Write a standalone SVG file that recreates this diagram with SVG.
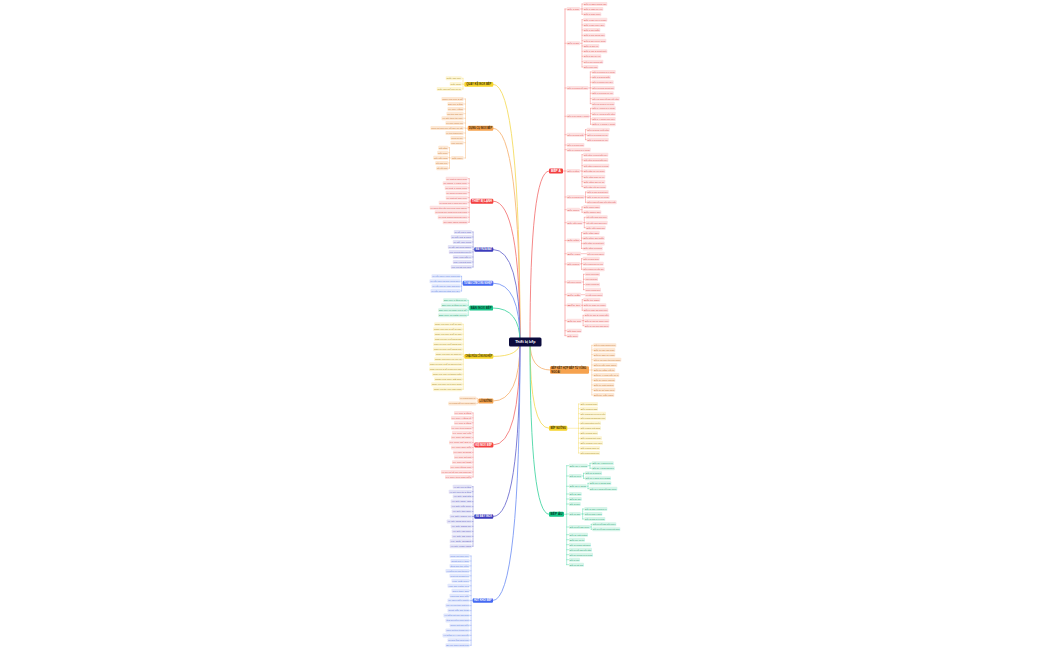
<svg xmlns="http://www.w3.org/2000/svg" width="1050" height="650" viewBox="0 0 1050 650">
<style>
text{font-family:"Liberation Sans",Arial,sans-serif;font-size:2.4px}
.ch rect{rx:0.8px}
.L .ch text{text-anchor:end}
.nd rect{rx:1.2px}
.nd text{font-size:2.7px;font-weight:bold;text-anchor:middle}
.y .ch rect{fill:#fdf5d3}.y .ch text{fill:#a88c1a}.y .nd rect{fill:#f6d32b}.y .nd text{fill:#3a3000}
.o .ch rect{fill:#fde8d4}.o .ch text{fill:#c97a38}.o .nd rect{fill:#f6a24e}.o .nd text{fill:#3a1e00}
.r .ch rect{fill:#fde1e1}.r .ch text{fill:#dd5a5a}.r .nd rect{fill:#f33f3f}.r .nd text{fill:#fff}
.i .ch rect{fill:#e3e3f7}.i .ch text{fill:#6464c2}.i .nd rect{fill:#3c3cbc}.i .nd text{fill:#fff}
.b .ch rect{fill:#e1e8fd}.b .ch text{fill:#6483e3}.b .nd rect{fill:#4469f2}.b .nd text{fill:#fff}
.g .ch rect{fill:#d6f5e9}.g .ch text{fill:#2a9f72}.g .nd rect{fill:#15c487}.g .nd text{fill:#053a26}
#center rect{fill:#0b0b3d}#center text{fill:#fff;font-size:3.6px;font-weight:bold;text-anchor:middle}
#connectors path{fill:none;stroke-linecap:round}
.m{stroke-width:0.9}.k{stroke-width:0.45}
.sy{stroke:#f5dc62}.so{stroke:#f7b87a}.sr{stroke:#f47a7a}.si{stroke:#7070d0}.sb{stroke:#7a98f5}.sg{stroke:#49d6a5}
.tr{stroke:#f7a0a0;stroke-width:0.8}
</style>
<rect width="1050" height="650" fill="#ffffff"/>
<g id="connectors">
<path class="m sy" d="M520 342Q520 84.3 493.3 84.3"/>
<path class="m so" d="M520 342Q520 128.3 493.3 128.3"/>
<path class="m sr" d="M520 342Q520 201.2 493.3 201.2"/>
<path class="m si" d="M520 342Q520 249.5 493.3 249.5"/>
<path class="m sb" d="M520 342Q520 283.2 493.3 283.2"/>
<path class="m sg" d="M520 342Q520 308 493 308"/>
<path class="m sy" d="M520 342Q520 356.4 493.3 356.4"/>
<path class="m so" d="M520 342Q520 401 493.3 401"/>
<path class="m sr" d="M520 342Q520 445 493.3 445"/>
<path class="m si" d="M520 342Q520 516.5 493.3 516.5"/>
<path class="m sb" d="M520 342Q520 600.5 493 600.5"/>
<path class="m sr" d="M530 342Q530 171 549 171"/>
<path class="m so" d="M530 342Q530 370 550 370"/>
<path class="m sy" d="M530 342Q530 428.3 549 428.3"/>
<path class="m sg" d="M530 342Q530 514.3 549 514.3"/>
<path class="k sy" d="M464.3 84.3H463M463 78.3V89M463 78.3h-1.3M463 84h-1.3M463 89h-1.3"/>
<path class="k so" d="M467.7 128.3H465.5M465.5 99V158M465.5 99h-2M465.5 104h-2M465.5 109h-2M465.5 113.7h-2M465.5 118.3h-2M465.5 123h-2M465.5 128h-2M465.5 133h-2M465.5 138h-2M465.5 142.7h-2M465.5 158h-2M451.2 158H449.5M449.5 147.7V168.3M449.5 147.7h-1.2M449.5 152.7h-1.2M449.5 157.7h-1.2M449.5 163h-1.2M449.5 168.3h-1.2"/>
<path class="k sr" d="M470.7 201.2H469.2M469.2 178.7V222.3M469.2 178.7h-1.5M469.2 183.3h-1.5M469.2 188h-1.5M469.2 192.7h-1.5M469.2 197.7h-1.5M469.2 202.7h-1.5M469.2 207.7h-1.5M469.2 212.3h-1.5M469.2 217.3h-1.5M469.2 222.3h-1.5"/>
<path class="k si" d="M474.3 249.5H473.1M473.1 232V267M473.1 232h-1.3M473.1 237h-1.3M473.1 242h-1.3M473.1 247h-1.3M473.1 252h-1.3M473.1 257h-1.3M473.1 262h-1.3M473.1 267h-1.3"/>
<path class="k sb" d="M462.7 283.2H461.6M461.6 276.3V291M461.6 276.3h-1.1M461.6 281.3h-1.1M461.6 286.3h-1.1M461.6 291h-1.1"/>
<path class="k sg" d="M469.3 308H468.2M468.2 300.3V315.3M468.2 300.3h-1M468.2 305.3h-1M468.2 310.3h-1M468.2 315.3h-1"/>
<path class="k sy" d="M464.3 356.4H463.2M463.2 324.3V389.3M463.2 324.3h-1M463.2 329.3h-1M463.2 334.3h-1M463.2 339.3h-1M463.2 344.3h-1M463.2 349.3h-1M463.2 354.3h-1M463.2 359.3h-1M463.2 364.3h-1M463.2 369.3h-1M463.2 374.3h-1M463.2 379.3h-1M463.2 384.3h-1M463.2 389.3h-1"/>
<path class="k so" d="M478.3 401H477.3M477.3 398.4V403.6M477.3 398.4h-1M477.3 403.6h-1"/>
<path class="k sr" d="M474.3 445H473.1M473.1 413V477M473.1 413h-1.1M473.1 417.9h-1.1M473.1 422.8h-1.1M473.1 427.8h-1.1M473.1 432.7h-1.1M473.1 437.6h-1.1M473.1 442.5h-1.1M473.1 447.5h-1.1M473.1 452.4h-1.1M473.1 457.3h-1.1M473.1 462.2h-1.1M473.1 467.2h-1.1M473.1 472.1h-1.1M473.1 477h-1.1"/>
<path class="k si" d="M474.3 516.5H473M473 486.7V546.3M473 486.7h-1.3M473 491.7h-1.3M473 496.6h-1.3M473 501.6h-1.3M473 506.6h-1.3M473 511.5h-1.3M473 516.5h-1.3M473 521.5h-1.3M473 526.4h-1.3M473 531.4h-1.3M473 536.4h-1.3M473 541.3h-1.3M473 546.3h-1.3"/>
<path class="k sb" d="M472.7 600.5H471.1M471.1 556V645.3M471.1 556h-1.6M471.1 561h-1.6M471.1 565.9h-1.6M471.1 570.9h-1.6M471.1 575.8h-1.6M471.1 580.8h-1.6M471.1 585.8h-1.6M471.1 590.7h-1.6M471.1 595.7h-1.6M471.1 600.6h-1.6M471.1 605.6h-1.6M471.1 610.6h-1.6M471.1 615.5h-1.6M471.1 620.5h-1.6M471.1 625.4h-1.6M471.1 630.4h-1.6M471.1 635.4h-1.6M471.1 640.3h-1.6M471.1 645.3h-1.6"/>
<path class="tr" d="M563 171H565M565 9V335.7"/>
<path class="k sr" d="M565 9h1.7M565 43.3h1.7M565 88h1.7M565 116.3h1.7M565 134.7h1.7M565 145h1.7M565 149.7h1.7M565 171h1.7M565 197h1.7M565 209.7h1.7M565 222.7h1.7M565 240.5h1.7M565 253.7h1.7M565 264h1.7M565 282h1.7M565 294.7h1.7M565 305.3h1.7M565 320.7h1.7M565 330.7h1.7M565 335.7h1.7
M580 9H582M582 4V14.3M582 4h1.3M582 9h1.3M582 14.3h1.3
M580 43.3H582M582 19.7V67M582 19.7h1.3M582 25h1.3M582 30h1.3M582 35.3h1.3M582 40.7h1.3M582 46h1.3M582 51.3h1.3M582 56.3h1.3M582 61.7h1.3M582 67h1.3
M588.4 88H590.3M590.3 72V103.7M590.3 72h1.4M590.3 77.3h1.4M590.3 82.3h1.4M590.3 88h1.4M590.3 93.3h1.4M590.3 98.7h1.4M590.3 103.7h1.4
M589.4 116.3H590.5M590.5 108.3V124.3M590.5 108.3h1.2M590.5 113.7h1.2M590.5 119h1.2M590.5 124.3h1.2
M584.4 134.7H585.5M585.5 129.7V139.7M585.5 129.7h1.2M585.5 134.7h1.2M585.5 139.7h1.2
M580 171H582M582 154.7V186.7M582 154.7h1.3M582 160h1.3M582 165.7h1.3M582 171.3h1.3M582 176.7h1.3M582 181.7h1.3M582 186.7h1.3
M584.4 197H585.5M585.5 192V202.3M585.5 192h1.2M585.5 197h1.2M585.5 202.3h1.2
M580 209.7H582M582 207V212.3M582 207h1.3M582 212.3h1.3
M582.7 222.7H584.3M584.3 217.3V227.7M584.3 217.3h1.4M584.3 222.7h1.4M584.3 227.7h1.4
M580 240.5H581.5M581.5 232.7V248.5M581.5 232.7h1.2M581.5 238.2h1.2M581.5 243.5h1.2M581.5 248.5h1.2
M581 253.7H586.7
M580 264H581.5M581.5 258.7V269.3M581.5 258.7h1.2M581.5 263.7h1.2M581.5 269.3h1.2
M581.7 282H583.5M583.5 274.3V289.7M583.5 274.3h1.5M583.5 279.3h1.5M583.5 284.5h1.5M583.5 289.7h1.5
M581 294.7H585
M581 305.3H582.2M582.2 299.7V310.3M582.2 299.7h1.1M582.2 305.3h1.1M582.2 310.3h1.1
M581.7 320.7H583.1M583.1 315.3V325.7M583.1 315.3h1.2M583.1 320.7h1.2M583.1 325.7h1.2"/>
<path class="k so" d="M589 370H591.8M591.8 345.3V395M591.8 345.3h1.5M591.8 350h1.5M591.8 354.7h1.5M591.8 359.7h1.5M591.8 365h1.5M591.8 370h1.5M591.8 375h1.5M591.8 380h1.5M591.8 385h1.5M591.8 389.7h1.5M591.8 395h1.5"/>
<path class="k sy" d="M567.3 428.3H578.5M578.5 404V453M578.5 404h1.5M578.5 408.7h1.5M578.5 413.7h1.5M578.5 418.3h1.5M578.5 423.3h1.5M578.5 428.3h1.5M578.5 433.3h1.5M578.5 438.3h1.5M578.5 443h1.5M578.5 448h1.5M578.5 453h1.5"/>
<path class="k sg" d="M564 514.3H566.7M566.7 465.7V564.7M566.7 465.7h2.3M566.7 476h2.3M566.7 486.3h2.3M566.7 494h2.3M566.7 499h2.3M566.7 504h2.3M566.7 514h2.3M566.7 527h2.3M566.7 534.7h2.3M566.7 539.7h2.3M566.7 544.7h2.3M566.7 549.7h2.3M566.7 554.7h2.3M566.7 559.7h2.3M566.7 564.7h2.3
M587.7 465.7H590M590 463.3V468.3M590 463.3h1.7M590 468.3h1.7
M581.7 476H583.5M583.5 473.3V478.3M583.5 473.3h1.5M583.5 478.3h1.5
M586.7 486.3H588M588 483.3V488.7M588 483.3h1.3M588 488.7h1.3
M580.7 514H582.7M582.7 509V519M582.7 509h1.6M582.7 514h1.6M582.7 519h1.6
M590 527H591.2M591.2 524.3V529.3M591.2 524.3h1.1M591.2 529.3h1.1"/>
</g>

<g id="b1" class="y L">
<g id="b1-node" class="nd"><rect x="464.3" y="81.9" width="29" height="4.8"/><text x="478.8" y="85.25" textLength="25" lengthAdjust="spacingAndGlyphs">QUẦY KỆ INOX BẾP</text></g>
<g class="ch">
<g id="b1-1"><rect x="445.7" y="76.3" width="16" height="4"/><text x="460.9" y="79.15" textLength="14.4" lengthAdjust="spacingAndGlyphs">Quầy bar inox</text></g>
<g id="b1-2"><rect x="449.7" y="82" width="12" height="4"/><text x="460.9" y="84.85" textLength="10.4" lengthAdjust="spacingAndGlyphs">Quầy soạn</text></g>
<g id="b1-3"><rect x="436.7" y="87" width="25" height="4"/><text x="460.9" y="89.85" textLength="23.4" lengthAdjust="spacingAndGlyphs">Quầy pha chế inox có kệ</text></g>
</g></g>

<g id="b2" class="o L">
<g id="b2-node" class="nd"><rect x="467.7" y="125.8" width="25.6" height="5"/><text x="480.5" y="129.25" textLength="23" lengthAdjust="spacingAndGlyphs">DỤNG CỤ INOX BẾP</text></g>
<g class="ch">
<g id="b2-1"><rect x="441.5" y="97" width="22" height="4"/><text x="462.7" y="99.85" textLength="20.4" lengthAdjust="spacingAndGlyphs">Chậu rửa inox 2 hố</text></g>
<g id="b2-2"><rect x="447.5" y="102" width="16" height="4"/><text x="462.7" y="104.85" textLength="14.4" lengthAdjust="spacingAndGlyphs">Bàn inox 2 tầng</text></g>
<g id="b2-3"><rect x="447.5" y="107" width="16" height="4"/><text x="462.7" y="109.85" textLength="14.4" lengthAdjust="spacingAndGlyphs">Kệ inox 4 tầng</text></g>
<g id="b2-4"><rect x="446.5" y="111.7" width="17" height="4"/><text x="462.7" y="114.55" textLength="15.4" lengthAdjust="spacingAndGlyphs">Giá treo dao inox</text></g>
<g id="b2-5"><rect x="441.5" y="116.3" width="22" height="4"/><text x="462.7" y="119.15" textLength="20.4" lengthAdjust="spacingAndGlyphs">Xe đẩy thức ăn inox</text></g>
<g id="b2-6"><rect x="445.5" y="121" width="18" height="4"/><text x="462.7" y="123.85" textLength="16.4" lengthAdjust="spacingAndGlyphs">Tủ inox cánh lùa</text></g>
<g id="b2-7"><rect x="430.5" y="126" width="33" height="4"/><text x="462.7" y="128.85" textLength="31.4" lengthAdjust="spacingAndGlyphs">Chụp hút khói inox kết hợp lọc mỡ</text></g>
<g id="b2-8"><rect x="445.5" y="131" width="18" height="4"/><text x="462.7" y="133.85" textLength="16.4" lengthAdjust="spacingAndGlyphs">Kệ treo tường inox</text></g>
<g id="b2-9"><rect x="450.5" y="136" width="13" height="4"/><text x="462.7" y="138.85" textLength="11.4" lengthAdjust="spacingAndGlyphs">Thùng rác inox</text></g>
<g id="b2-10"><rect x="450.5" y="140.7" width="13" height="4"/><text x="462.7" y="143.55" textLength="11.4" lengthAdjust="spacingAndGlyphs">Khay GN inox</text></g>
<g id="b2-11"><rect x="451.2" y="156" width="12.3" height="4"/><text x="462.7" y="158.85" textLength="10.7" lengthAdjust="spacingAndGlyphs">Nồi inox</text></g>
<g id="b2-11-1"><rect x="438.3" y="145.7" width="10" height="4"/><text x="447.5" y="148.55" textLength="8.4" lengthAdjust="spacingAndGlyphs">Nồi hầm</text></g>
<g id="b2-11-2"><rect x="437.3" y="150.7" width="11" height="4"/><text x="447.5" y="153.55" textLength="9.4" lengthAdjust="spacingAndGlyphs">Nồi luộc</text></g>
<g id="b2-11-3"><rect x="433.3" y="155.7" width="15" height="4"/><text x="447.5" y="158.55" textLength="13.4" lengthAdjust="spacingAndGlyphs">Nồi nấu phở</text></g>
<g id="b2-11-4"><rect x="435.3" y="161" width="13" height="4"/><text x="447.5" y="163.85" textLength="11.4" lengthAdjust="spacingAndGlyphs">Nồi cơm inox</text></g>
<g id="b2-11-5"><rect x="436.3" y="166.3" width="12" height="4"/><text x="447.5" y="169.15" textLength="10.4" lengthAdjust="spacingAndGlyphs">Nồi nấu canh</text></g>
</g></g>

<g id="b3" class="r L">
<g id="b3-node" class="nd"><rect x="470.7" y="198.7" width="22.6" height="5"/><text x="482" y="202.15" textLength="20" lengthAdjust="spacingAndGlyphs">THIẾT BỊ LẠNH</text></g>
<g class="ch">
<g id="b3-1"><rect x="445.7" y="176.7" width="22" height="4"/><text x="466.9" y="179.55" textLength="20.4" lengthAdjust="spacingAndGlyphs">Tủ mát 2 cánh kính</text></g>
<g id="b3-2"><rect x="442.7" y="181.3" width="25" height="4"/><text x="466.9" y="184.15" textLength="23.4" lengthAdjust="spacingAndGlyphs">Tủ đông 4 cánh inox</text></g>
<g id="b3-3"><rect x="444.7" y="186" width="23" height="4"/><text x="466.9" y="188.85" textLength="21.4" lengthAdjust="spacingAndGlyphs">Tủ mát 1 cánh kính</text></g>
<g id="b3-4"><rect x="445.7" y="190.7" width="22" height="4"/><text x="466.9" y="193.55" textLength="20.4" lengthAdjust="spacingAndGlyphs">Tủ đông 2 cánh inox</text></g>
<g id="b3-5"><rect x="445.7" y="195.7" width="22" height="4"/><text x="466.9" y="198.55" textLength="20.4" lengthAdjust="spacingAndGlyphs">Tủ mát để bàn inox</text></g>
<g id="b3-6"><rect x="438.7" y="200.7" width="29" height="4"/><text x="466.9" y="203.55" textLength="27.4" lengthAdjust="spacingAndGlyphs">Tủ đông mát 6 cánh inox 304</text></g>
<g id="b3-7"><rect x="429.7" y="205.7" width="38" height="4"/><text x="466.9" y="208.55" textLength="36.4" lengthAdjust="spacingAndGlyphs">Tủ đông nằm nắp kính cong công nghiệp</text></g>
<g id="b3-8"><rect x="434.7" y="210.3" width="33" height="4"/><text x="466.9" y="213.15" textLength="31.4" lengthAdjust="spacingAndGlyphs">Tủ trưng bày bánh kem kính cong</text></g>
<g id="b3-9"><rect x="437.7" y="215.3" width="30" height="4"/><text x="466.9" y="218.15" textLength="28.4" lengthAdjust="spacingAndGlyphs">Tủ mát salad topping inox</text></g>
<g id="b3-10"><rect x="442.7" y="220.3" width="25" height="4"/><text x="466.9" y="223.15" textLength="23.4" lengthAdjust="spacingAndGlyphs">Tủ làm lạnh nhanh</text></g>
</g></g>

<g id="b4" class="i L">
<g id="b4-node" class="nd"><rect x="474.3" y="247.2" width="19" height="4.6"/><text x="483.8" y="250.45" textLength="16.5" lengthAdjust="spacingAndGlyphs">MÁY RỬA BÁT</text></g>
<g class="ch">
<g id="b4-1"><rect x="453.8" y="230" width="18" height="4"/><text x="471" y="232.85" textLength="16.4" lengthAdjust="spacingAndGlyphs">Tủ sấy bát 1 cánh</text></g>
<g id="b4-2"><rect x="450.8" y="235" width="21" height="4"/><text x="471" y="237.85" textLength="19.4" lengthAdjust="spacingAndGlyphs">Tủ sấy bát 2 cánh</text></g>
<g id="b4-3"><rect x="452.8" y="240" width="19" height="4"/><text x="471" y="242.85" textLength="17.4" lengthAdjust="spacingAndGlyphs">Tủ sấy khử trùng</text></g>
<g id="b4-4"><rect x="447.8" y="245" width="24" height="4"/><text x="471" y="247.85" textLength="22.4" lengthAdjust="spacingAndGlyphs">Tủ sấy bát công nghiệp</text></g>
<g id="b4-5"><rect x="448.8" y="250" width="23" height="4"/><text x="471" y="252.85" textLength="21.4" lengthAdjust="spacingAndGlyphs">Máy rửa bát băng chuyền</text></g>
<g id="b4-6"><rect x="452.8" y="255" width="19" height="4"/><text x="471" y="257.85" textLength="17.4" lengthAdjust="spacingAndGlyphs">Máy rửa cốc ly</text></g>
<g id="b4-7"><rect x="452.8" y="260" width="19" height="4"/><text x="471" y="262.85" textLength="17.4" lengthAdjust="spacingAndGlyphs">Máy rửa bát mini</text></g>
<g id="b4-8"><rect x="450.8" y="265" width="21" height="4"/><text x="471" y="267.85" textLength="19.4" lengthAdjust="spacingAndGlyphs">Máy rửa bát cửa nâng</text></g>
</g></g>

<g id="b5" class="b L">
<g id="b5-node" class="nd"><rect x="462.7" y="280.7" width="30.6" height="5"/><text x="478" y="284.15" textLength="28" lengthAdjust="spacingAndGlyphs">TỦ NẤU CƠM CÔNG NGHIỆP</text></g>
<g class="ch">
<g id="b5-1"><rect x="431.5" y="274.3" width="29" height="4"/><text x="459.7" y="277.15" textLength="27.4" lengthAdjust="spacingAndGlyphs">Tủ nấu cơm 6 khay dùng gas</text></g>
<g id="b5-2"><rect x="429.5" y="279.3" width="31" height="4"/><text x="459.7" y="282.15" textLength="29.4" lengthAdjust="spacingAndGlyphs">Tủ nấu cơm 12 khay dùng điện</text></g>
<g id="b5-3"><rect x="431.5" y="284.3" width="29" height="4"/><text x="459.7" y="287.15" textLength="27.4" lengthAdjust="spacingAndGlyphs">Tủ nấu cơm 24 khay gas điện</text></g>
<g id="b5-4"><rect x="430.5" y="289" width="30" height="4"/><text x="459.7" y="291.85" textLength="28.4" lengthAdjust="spacingAndGlyphs">Tủ hấp cơm đa năng inox 304</text></g>
</g></g>

<g id="b6" class="g L">
<g id="b6-node" class="nd"><rect x="469.3" y="305.4" width="23.7" height="5.2"/><text x="481.15" y="308.95" textLength="21" lengthAdjust="spacingAndGlyphs">BÀN INOX BẾP</text></g>
<g class="ch">
<g id="b6-1"><rect x="443.2" y="298.3" width="24" height="4"/><text x="466.4" y="301.15" textLength="22.4" lengthAdjust="spacingAndGlyphs">Bàn inox 1 tầng có kệ</text></g>
<g id="b6-2"><rect x="441.2" y="303.3" width="26" height="4"/><text x="466.4" y="306.15" textLength="24.4" lengthAdjust="spacingAndGlyphs">Bàn inox 2 tầng có gáy</text></g>
<g id="b6-3"><rect x="438.2" y="308.3" width="29" height="4"/><text x="466.4" y="311.15" textLength="27.4" lengthAdjust="spacingAndGlyphs">Bàn inox có chậu rửa 1 hố</text></g>
<g id="b6-4"><rect x="438.2" y="313.3" width="29" height="4"/><text x="466.4" y="316.15" textLength="27.4" lengthAdjust="spacingAndGlyphs">Bàn inox có ngăn kéo tủ</text></g>
</g></g>

<g id="b7" class="y L">
<g id="b7-node" class="nd"><rect x="464.3" y="354" width="29" height="4.8"/><text x="478.8" y="357.35" textLength="26.5" lengthAdjust="spacingAndGlyphs">CHẬU RỬA CÔNG NGHIỆP</text></g>
<g class="ch">
<g id="b7-1"><rect x="434.2" y="322.3" width="28" height="4"/><text x="461.4" y="325.15" textLength="26.4" lengthAdjust="spacingAndGlyphs">Chậu rửa inox 1 hố có bàn</text></g>
<g id="b7-2"><rect x="433.2" y="327.3" width="29" height="4"/><text x="461.4" y="330.15" textLength="27.4" lengthAdjust="spacingAndGlyphs">Chậu rửa inox 2 hố có bàn</text></g>
<g id="b7-3"><rect x="434.2" y="332.3" width="28" height="4"/><text x="461.4" y="335.15" textLength="26.4" lengthAdjust="spacingAndGlyphs">Chậu rửa inox 3 hố có bàn</text></g>
<g id="b7-4"><rect x="434.2" y="337.3" width="28" height="4"/><text x="461.4" y="340.15" textLength="26.4" lengthAdjust="spacingAndGlyphs">Chậu rửa inox 1 hố không bàn</text></g>
<g id="b7-5"><rect x="433.2" y="342.3" width="29" height="4"/><text x="461.4" y="345.15" textLength="27.4" lengthAdjust="spacingAndGlyphs">Chậu rửa inox 2 hố không bàn</text></g>
<g id="b7-6"><rect x="433.2" y="347.3" width="29" height="4"/><text x="461.4" y="350.15" textLength="27.4" lengthAdjust="spacingAndGlyphs">Chậu rửa inox 3 hố không bàn</text></g>
<g id="b7-7"><rect x="435.2" y="352.3" width="27" height="4"/><text x="461.4" y="355.15" textLength="25.4" lengthAdjust="spacingAndGlyphs">Chậu rửa inox có chân kệ</text></g>
<g id="b7-8"><rect x="434.2" y="357.3" width="28" height="4"/><text x="461.4" y="360.15" textLength="26.4" lengthAdjust="spacingAndGlyphs">Chậu rửa inox có vòi xịt</text></g>
<g id="b7-9"><rect x="429.2" y="362.3" width="33" height="4"/><text x="461.4" y="365.15" textLength="31.4" lengthAdjust="spacingAndGlyphs">Chậu rửa inox 2 hố có bàn bên trái</text></g>
<g id="b7-10"><rect x="429.2" y="367.3" width="33" height="4"/><text x="461.4" y="370.15" textLength="31.4" lengthAdjust="spacingAndGlyphs">Chậu rửa inox 2 hố có bàn bên phải</text></g>
<g id="b7-11"><rect x="432.2" y="372.3" width="30" height="4"/><text x="461.4" y="375.15" textLength="28.4" lengthAdjust="spacingAndGlyphs">Chậu rửa inox có thành chắn</text></g>
<g id="b7-12"><rect x="434.2" y="377.3" width="28" height="4"/><text x="461.4" y="380.15" textLength="26.4" lengthAdjust="spacingAndGlyphs">Chậu rửa inox đặt góc</text></g>
<g id="b7-13"><rect x="431.2" y="382.3" width="31" height="4"/><text x="461.4" y="385.15" textLength="29.4" lengthAdjust="spacingAndGlyphs">Chậu rửa inox có tủ bên dưới</text></g>
<g id="b7-14"><rect x="433.2" y="387.3" width="29" height="4"/><text x="461.4" y="390.15" textLength="27.4" lengthAdjust="spacingAndGlyphs">Chậu rửa tay inox đạp chân</text></g>
</g></g>

<g id="b8" class="o L">
<g id="b8-node" class="nd"><rect x="478.3" y="398.4" width="15" height="5.2"/><text x="485.8" y="401.95" textLength="12.5" lengthAdjust="spacingAndGlyphs">LÒ NƯỚNG</text></g>
<g class="ch">
<g id="b8-1"><rect x="459.3" y="396.4" width="17" height="4"/><text x="475.5" y="399.25" textLength="15.4" lengthAdjust="spacingAndGlyphs">Lò nướng bánh mì</text></g>
<g id="b8-2"><rect x="448.3" y="401.6" width="28" height="4"/><text x="475.5" y="404.45" textLength="26.4" lengthAdjust="spacingAndGlyphs">Lò nướng đối lưu công nghiệp</text></g>
</g></g>

<g id="b9" class="r L">
<g id="b9-node" class="nd"><rect x="474.3" y="442.6" width="19" height="4.8"/><text x="483.8" y="445.95" textLength="16.5" lengthAdjust="spacingAndGlyphs">KỆ INOX BẾP</text></g>
<g class="ch">
<g id="b9-1"><rect x="454" y="411" width="18" height="4"/><text x="471.2" y="413.85" textLength="16.4" lengthAdjust="spacingAndGlyphs">Kệ inox 3 tầng</text></g>
<g id="b9-2"><rect x="451" y="415.9" width="21" height="4"/><text x="471.2" y="418.75" textLength="19.4" lengthAdjust="spacingAndGlyphs">Kệ inox 4 tầng lỗ</text></g>
<g id="b9-3"><rect x="454" y="420.8" width="18" height="4"/><text x="471.2" y="423.65" textLength="16.4" lengthAdjust="spacingAndGlyphs">Kệ inox 5 tầng</text></g>
<g id="b9-4"><rect x="451" y="425.8" width="21" height="4"/><text x="471.2" y="428.65" textLength="19.4" lengthAdjust="spacingAndGlyphs">Kệ inox treo tường</text></g>
<g id="b9-5"><rect x="452" y="430.7" width="20" height="4"/><text x="471.2" y="433.55" textLength="18.4" lengthAdjust="spacingAndGlyphs">Kệ inox để nồi</text></g>
<g id="b9-6"><rect x="451" y="435.6" width="21" height="4"/><text x="471.2" y="438.45" textLength="19.4" lengthAdjust="spacingAndGlyphs">Kệ inox để khay</text></g>
<g id="b9-7"><rect x="449" y="440.5" width="23" height="4"/><text x="471.2" y="443.35" textLength="21.4" lengthAdjust="spacingAndGlyphs">Kệ inox để gia vị</text></g>
<g id="b9-8"><rect x="451" y="445.5" width="21" height="4"/><text x="471.2" y="448.35" textLength="19.4" lengthAdjust="spacingAndGlyphs">Kệ inox góc bếp</text></g>
<g id="b9-9"><rect x="453" y="450.4" width="19" height="4"/><text x="471.2" y="453.25" textLength="17.4" lengthAdjust="spacingAndGlyphs">Kệ inox di động</text></g>
<g id="b9-10"><rect x="454" y="455.3" width="18" height="4"/><text x="471.2" y="458.15" textLength="16.4" lengthAdjust="spacingAndGlyphs">Kệ inox để bát</text></g>
<g id="b9-11"><rect x="452" y="460.2" width="20" height="4"/><text x="471.2" y="463.05" textLength="18.4" lengthAdjust="spacingAndGlyphs">Kệ inox để thớt</text></g>
<g id="b9-12"><rect x="450" y="465.2" width="22" height="4"/><text x="471.2" y="468.05" textLength="20.4" lengthAdjust="spacingAndGlyphs">Kệ inox tầng nan</text></g>
<g id="b9-13"><rect x="441" y="470.1" width="31" height="4"/><text x="471.2" y="472.95" textLength="29.4" lengthAdjust="spacingAndGlyphs">Kệ inox để đồ khô nhà hàng lớn</text></g>
<g id="b9-14"><rect x="445" y="475" width="27" height="4"/><text x="471.2" y="477.85" textLength="25.4" lengthAdjust="spacingAndGlyphs">Kệ inox trên bàn bếp</text></g>
</g></g>

<g id="b10" class="i L">
<g id="b10-node" class="nd"><rect x="474.3" y="514.2" width="19" height="4.6"/><text x="483.8" y="517.45" textLength="16.5" lengthAdjust="spacingAndGlyphs">XE ĐẨY INOX</text></g>
<g class="ch">
<g id="b10-1"><rect x="452.7" y="484.7" width="19" height="4"/><text x="470.9" y="487.55" textLength="17.4" lengthAdjust="spacingAndGlyphs">Xe đẩy inox 2 tầng</text></g>
<g id="b10-2"><rect x="448.7" y="489.7" width="23" height="4"/><text x="470.9" y="492.55" textLength="21.4" lengthAdjust="spacingAndGlyphs">Xe đẩy thức ăn 3 tầng</text></g>
<g id="b10-3"><rect x="452.7" y="494.6" width="19" height="4"/><text x="470.9" y="497.45" textLength="17.4" lengthAdjust="spacingAndGlyphs">Xe đẩy bát đĩa</text></g>
<g id="b10-4"><rect x="450.7" y="499.6" width="21" height="4"/><text x="470.9" y="502.45" textLength="19.4" lengthAdjust="spacingAndGlyphs">Xe đẩy khay GN</text></g>
<g id="b10-5"><rect x="450.7" y="504.6" width="21" height="4"/><text x="470.9" y="507.45" textLength="19.4" lengthAdjust="spacingAndGlyphs">Xe đẩy nồi inox</text></g>
<g id="b10-6"><rect x="451.7" y="509.5" width="20" height="4"/><text x="470.9" y="512.35" textLength="18.4" lengthAdjust="spacingAndGlyphs">Xe đẩy thu dọn</text></g>
<g id="b10-7"><rect x="449.7" y="514.5" width="22" height="4"/><text x="470.9" y="517.35" textLength="20.4" lengthAdjust="spacingAndGlyphs">Xe đẩy phục vụ</text></g>
<g id="b10-8"><rect x="446.7" y="519.5" width="25" height="4"/><text x="470.9" y="522.35" textLength="23.4" lengthAdjust="spacingAndGlyphs">Xe đẩy hàng hóa inox</text></g>
<g id="b10-9"><rect x="450.7" y="524.4" width="21" height="4"/><text x="470.9" y="527.25" textLength="19.4" lengthAdjust="spacingAndGlyphs">Xe đẩy bánh mì</text></g>
<g id="b10-10"><rect x="451.7" y="529.4" width="20" height="4"/><text x="470.9" y="532.25" textLength="18.4" lengthAdjust="spacingAndGlyphs">Xe đẩy rác inox</text></g>
<g id="b10-11"><rect x="451.7" y="534.4" width="20" height="4"/><text x="470.9" y="537.25" textLength="18.4" lengthAdjust="spacingAndGlyphs">Xe đẩy đá viên</text></g>
<g id="b10-12"><rect x="449.7" y="539.3" width="22" height="4"/><text x="470.9" y="542.15" textLength="20.4" lengthAdjust="spacingAndGlyphs">Xe đẩy buffet</text></g>
<g id="b10-13"><rect x="449.7" y="544.3" width="22" height="4"/><text x="470.9" y="547.15" textLength="20.4" lengthAdjust="spacingAndGlyphs">Xe đẩy rượu vang</text></g>
</g></g>

<g id="b11" class="b L">
<g id="b11-node" class="nd"><rect x="472.7" y="598.2" width="20.3" height="4.6"/><text x="482.85" y="601.45" textLength="17.8" lengthAdjust="spacingAndGlyphs">HÚT KHÓI BẾP</text></g>
<g class="ch">
<g id="b11-1"><rect x="449.5" y="554" width="20" height="4"/><text x="468.7" y="556.85" textLength="18.4" lengthAdjust="spacingAndGlyphs">Chụp hút khói inox</text></g>
<g id="b11-2"><rect x="450.5" y="559" width="19" height="4"/><text x="468.7" y="561.85" textLength="17.4" lengthAdjust="spacingAndGlyphs">Quạt hút ly tâm</text></g>
<g id="b11-3"><rect x="449.5" y="563.9" width="20" height="4"/><text x="468.7" y="566.75" textLength="18.4" lengthAdjust="spacingAndGlyphs">Ống gió tôn kẽm</text></g>
<g id="b11-4"><rect x="445.5" y="568.9" width="24" height="4"/><text x="468.7" y="571.75" textLength="22.4" lengthAdjust="spacingAndGlyphs">Hệ thống lọc khói tĩnh điện</text></g>
<g id="b11-5"><rect x="449.5" y="573.8" width="20" height="4"/><text x="468.7" y="576.65" textLength="18.4" lengthAdjust="spacingAndGlyphs">Quạt hút hướng trục</text></g>
<g id="b11-6"><rect x="451.5" y="578.8" width="18" height="4"/><text x="468.7" y="581.65" textLength="16.4" lengthAdjust="spacingAndGlyphs">Lọc mỡ inox</text></g>
<g id="b11-7"><rect x="447.5" y="583.8" width="22" height="4"/><text x="468.7" y="586.65" textLength="20.4" lengthAdjust="spacingAndGlyphs">Van gió chặn lửa</text></g>
<g id="b11-8"><rect x="451.5" y="588.7" width="18" height="4"/><text x="468.7" y="591.55" textLength="16.4" lengthAdjust="spacingAndGlyphs">Côn thu gió</text></g>
<g id="b11-9"><rect x="449.5" y="593.7" width="20" height="4"/><text x="468.7" y="596.55" textLength="18.4" lengthAdjust="spacingAndGlyphs">Miệng gió hồi</text></g>
<g id="b11-10"><rect x="447.5" y="598.6" width="22" height="4"/><text x="468.7" y="601.45" textLength="20.4" lengthAdjust="spacingAndGlyphs">Tủ điện điều khiển</text></g>
<g id="b11-11"><rect x="445.5" y="603.6" width="24" height="4"/><text x="468.7" y="606.45" textLength="22.4" lengthAdjust="spacingAndGlyphs">Máy lọc khói than hoạt tính</text></g>
<g id="b11-12"><rect x="447.5" y="608.6" width="22" height="4"/><text x="468.7" y="611.45" textLength="20.4" lengthAdjust="spacingAndGlyphs">Quạt cấp gió tươi</text></g>
<g id="b11-13"><rect x="443.5" y="613.5" width="26" height="4"/><text x="468.7" y="616.35" textLength="24.4" lengthAdjust="spacingAndGlyphs">Hệ thống hút khói nhà hàng</text></g>
<g id="b11-14"><rect x="445.5" y="618.5" width="24" height="4"/><text x="468.7" y="621.35" textLength="22.4" lengthAdjust="spacingAndGlyphs">Ống gió mềm cách nhiệt</text></g>
<g id="b11-15"><rect x="449.5" y="623.4" width="20" height="4"/><text x="468.7" y="626.25" textLength="18.4" lengthAdjust="spacingAndGlyphs">Chụp hút đảo bếp</text></g>
<g id="b11-16"><rect x="445.5" y="628.4" width="24" height="4"/><text x="468.7" y="631.25" textLength="22.4" lengthAdjust="spacingAndGlyphs">Chụp hút treo tường inox</text></g>
<g id="b11-17"><rect x="442.5" y="633.4" width="27" height="4"/><text x="468.7" y="636.25" textLength="25.4" lengthAdjust="spacingAndGlyphs">Hệ thống xử lý mùi nhà bếp</text></g>
<g id="b11-18"><rect x="447.5" y="638.3" width="22" height="4"/><text x="468.7" y="641.15" textLength="20.4" lengthAdjust="spacingAndGlyphs">Đường ống thoát khói</text></g>
<g id="b11-19"><rect x="445.5" y="643.3" width="24" height="4"/><text x="468.7" y="646.15" textLength="22.4" lengthAdjust="spacingAndGlyphs">Bộ lọc than hoạt tính</text></g>
</g></g>

<g id="r1" class="r">
<g id="r1-node" class="nd"><rect x="549" y="168.5" width="14" height="5"/><text x="556" y="171.95" textLength="10" lengthAdjust="spacingAndGlyphs">BẾP Á</text></g>
<g class="ch">
<g id="r1-1"><rect x="566.7" y="7" width="13.3" height="4"/><text x="567.5" y="9.85" textLength="11.7" lengthAdjust="spacingAndGlyphs">Bếp á đơn</text></g>
<g id="r1-1-1"><rect x="583.3" y="2" width="24" height="4"/><text x="584.1" y="4.85" textLength="22.4" lengthAdjust="spacingAndGlyphs">Bếp á đơn họng lớn</text></g>
<g id="r1-1-2"><rect x="583.3" y="7" width="20" height="4"/><text x="584.1" y="9.85" textLength="18.4" lengthAdjust="spacingAndGlyphs">Bếp á đơn có vòi</text></g>
<g id="r1-1-3"><rect x="583.3" y="12.3" width="18" height="4"/><text x="584.1" y="15.15" textLength="16.4" lengthAdjust="spacingAndGlyphs">Bếp á đơn mini</text></g>
<g id="r1-2"><rect x="566.7" y="41.3" width="13.3" height="4"/><text x="567.5" y="44.15" textLength="11.7" lengthAdjust="spacingAndGlyphs">Bếp á đôi</text></g>
<g id="r1-2-1"><rect x="583.3" y="17.7" width="24" height="4"/><text x="584.1" y="20.55" textLength="22.4" lengthAdjust="spacingAndGlyphs">Bếp á đôi có ô nước</text></g>
<g id="r1-2-2"><rect x="583.3" y="23" width="22" height="4"/><text x="584.1" y="25.85" textLength="20.4" lengthAdjust="spacingAndGlyphs">Bếp á đôi inox 304</text></g>
<g id="r1-2-3"><rect x="583.3" y="28" width="17" height="4"/><text x="584.1" y="30.85" textLength="15.4" lengthAdjust="spacingAndGlyphs">Bếp á đôi thấp</text></g>
<g id="r1-2-4"><rect x="583.3" y="33.3" width="22" height="4"/><text x="584.1" y="36.15" textLength="20.4" lengthAdjust="spacingAndGlyphs">Bếp á đôi họng lớn</text></g>
<g id="r1-2-5"><rect x="583.3" y="38.7" width="23" height="4"/><text x="584.1" y="41.55" textLength="21.4" lengthAdjust="spacingAndGlyphs">Bếp á đôi có kệ dưới</text></g>
<g id="r1-2-6"><rect x="583.3" y="44" width="16" height="4"/><text x="584.1" y="46.85" textLength="14.4" lengthAdjust="spacingAndGlyphs">Bếp á đôi rẻ</text></g>
<g id="r1-2-7"><rect x="583.3" y="49.3" width="24" height="4"/><text x="584.1" y="52.15" textLength="22.4" lengthAdjust="spacingAndGlyphs">Bếp á đôi 2 quạt thổi</text></g>
<g id="r1-2-8"><rect x="583.3" y="54.3" width="18" height="4"/><text x="584.1" y="57.15" textLength="16.4" lengthAdjust="spacingAndGlyphs">Bếp á đôi có vòi</text></g>
<g id="r1-2-9"><rect x="583.3" y="59.7" width="20" height="4"/><text x="584.1" y="62.55" textLength="18.4" lengthAdjust="spacingAndGlyphs">Bếp á đôi khung sắt</text></g>
<g id="r1-2-10"><rect x="583.3" y="65" width="15" height="4"/><text x="584.1" y="67.85" textLength="13.4" lengthAdjust="spacingAndGlyphs">Bếp á đôi nhỏ</text></g>
<g id="r1-3"><rect x="566.7" y="86" width="21.7" height="4"/><text x="567.5" y="88.85" textLength="20.1" lengthAdjust="spacingAndGlyphs">Bếp á 3 họng kết hợp</text></g>
<g id="r1-3-1"><rect x="591.7" y="70" width="24" height="4"/><text x="592.5" y="72.85" textLength="22.4" lengthAdjust="spacingAndGlyphs">Bếp á 3 họng có ô nước</text></g>
<g id="r1-3-2"><rect x="591.7" y="75.3" width="19" height="4"/><text x="592.5" y="78.15" textLength="17.4" lengthAdjust="spacingAndGlyphs">Bếp á 3 họng thấp</text></g>
<g id="r1-3-3"><rect x="591.7" y="80.3" width="22" height="4"/><text x="592.5" y="83.15" textLength="20.4" lengthAdjust="spacingAndGlyphs">Bếp á 3 họng inox 304</text></g>
<g id="r1-3-4"><rect x="591.7" y="86" width="23" height="4"/><text x="592.5" y="88.85" textLength="21.4" lengthAdjust="spacingAndGlyphs">Bếp á 3 họng 3 quạt thổi</text></g>
<g id="r1-3-5"><rect x="591.7" y="91.3" width="22" height="4"/><text x="592.5" y="94.15" textLength="20.4" lengthAdjust="spacingAndGlyphs">Bếp á 3 họng có vòi</text></g>
<g id="r1-3-6"><rect x="591.7" y="96.7" width="28" height="4"/><text x="592.5" y="99.55" textLength="26.4" lengthAdjust="spacingAndGlyphs">Bếp á 3 họng kết hợp bếp hầm</text></g>
<g id="r1-3-7"><rect x="591.7" y="101.7" width="23" height="4"/><text x="592.5" y="104.55" textLength="21.4" lengthAdjust="spacingAndGlyphs">Bếp á 3 họng có kệ dưới</text></g>
<g id="r1-4"><rect x="566.7" y="114.3" width="22.7" height="4"/><text x="567.5" y="117.15" textLength="21.1" lengthAdjust="spacingAndGlyphs">Bếp á liên hoàn 4 họng</text></g>
<g id="r1-4-1"><rect x="591.7" y="106.3" width="24" height="4"/><text x="592.5" y="109.15" textLength="22.4" lengthAdjust="spacingAndGlyphs">Bếp á 4 họng có ô nước</text></g>
<g id="r1-4-2"><rect x="591.7" y="111.7" width="24" height="4"/><text x="592.5" y="114.55" textLength="22.4" lengthAdjust="spacingAndGlyphs">Bếp á 4 họng 2 bếp hầm</text></g>
<g id="r1-4-3"><rect x="591.7" y="117" width="24" height="4"/><text x="592.5" y="119.85" textLength="22.4" lengthAdjust="spacingAndGlyphs">Bếp á 4 họng inox 304</text></g>
<g id="r1-4-4"><rect x="591.7" y="122.3" width="24" height="4"/><text x="592.5" y="125.15" textLength="22.4" lengthAdjust="spacingAndGlyphs">Bếp á 4 họng 4 quạt</text></g>
<g id="r1-5"><rect x="566.7" y="132.7" width="17.7" height="4"/><text x="567.5" y="135.55" textLength="16.1" lengthAdjust="spacingAndGlyphs">Bếp á 2 họng thấp</text></g>
<g id="r1-5-1"><rect x="586.7" y="127.7" width="23" height="4"/><text x="587.5" y="130.55" textLength="21.4" lengthAdjust="spacingAndGlyphs">Bếp á 2 họng 1 bếp hầm</text></g>
<g id="r1-5-2"><rect x="586.7" y="132.7" width="22" height="4"/><text x="587.5" y="135.55" textLength="20.4" lengthAdjust="spacingAndGlyphs">Bếp á 2 họng có kệ</text></g>
<g id="r1-5-3"><rect x="586.7" y="137.7" width="22" height="4"/><text x="587.5" y="140.55" textLength="20.4" lengthAdjust="spacingAndGlyphs">Bếp á 2 họng có vòi</text></g>
<g id="r1-6"><rect x="566.7" y="143" width="17.7" height="4"/><text x="567.5" y="145.85" textLength="16.1" lengthAdjust="spacingAndGlyphs">Bếp á có bàn chờ</text></g>
<g id="r1-7"><rect x="566.7" y="147.7" width="24" height="4"/><text x="567.5" y="150.55" textLength="22.4" lengthAdjust="spacingAndGlyphs">Bếp á 1 họng có ô nước</text></g>
<g id="r1-8"><rect x="566.7" y="169" width="13.3" height="4"/><text x="567.5" y="171.85" textLength="11.7" lengthAdjust="spacingAndGlyphs">Bếp á hầm</text></g>
<g id="r1-8-1"><rect x="583.3" y="152.7" width="25" height="4"/><text x="584.1" y="155.55" textLength="23.4" lengthAdjust="spacingAndGlyphs">Bếp hầm 1 họng thấp inox</text></g>
<g id="r1-8-2"><rect x="583.3" y="158" width="25" height="4"/><text x="584.1" y="160.85" textLength="23.4" lengthAdjust="spacingAndGlyphs">Bếp hầm 2 họng thấp inox</text></g>
<g id="r1-8-3"><rect x="583.3" y="163.7" width="26" height="4"/><text x="584.1" y="166.55" textLength="24.4" lengthAdjust="spacingAndGlyphs">Bếp hầm 3 họng có kệ dưới</text></g>
<g id="r1-8-4"><rect x="583.3" y="169.3" width="22" height="4"/><text x="584.1" y="172.15" textLength="20.4" lengthAdjust="spacingAndGlyphs">Bếp hầm có vòi nước</text></g>
<g id="r1-8-5"><rect x="583.3" y="174.7" width="22" height="4"/><text x="584.1" y="177.55" textLength="20.4" lengthAdjust="spacingAndGlyphs">Bếp hầm đơn có kệ</text></g>
<g id="r1-8-6"><rect x="583.3" y="179.7" width="22" height="4"/><text x="584.1" y="182.55" textLength="20.4" lengthAdjust="spacingAndGlyphs">Bếp hầm đôi có kệ</text></g>
<g id="r1-8-7"><rect x="583.3" y="184.7" width="23" height="4"/><text x="584.1" y="187.55" textLength="21.4" lengthAdjust="spacingAndGlyphs">Bếp hầm nồi lớn 80cm</text></g>
<g id="r1-9"><rect x="566.7" y="195" width="17.7" height="4"/><text x="567.5" y="197.85" textLength="16.1" lengthAdjust="spacingAndGlyphs">Bếp á 3 họng cao</text></g>
<g id="r1-9-1"><rect x="586.7" y="190" width="22" height="4"/><text x="587.5" y="192.85" textLength="20.4" lengthAdjust="spacingAndGlyphs">Bếp á cao 3 quạt thổi</text></g>
<g id="r1-9-2"><rect x="586.7" y="195" width="23" height="4"/><text x="587.5" y="197.85" textLength="21.4" lengthAdjust="spacingAndGlyphs">Bếp á cao có vòi nước</text></g>
<g id="r1-9-3"><rect x="586.7" y="200.3" width="30" height="4"/><text x="587.5" y="203.15" textLength="28.4" lengthAdjust="spacingAndGlyphs">Bếp á cao kết hợp bếp hầm thấp</text></g>
<g id="r1-10"><rect x="566.7" y="207.7" width="13.3" height="4"/><text x="567.5" y="210.55" textLength="11.7" lengthAdjust="spacingAndGlyphs">Bếp chiên</text></g>
<g id="r1-10-1"><rect x="583.3" y="205" width="17" height="4"/><text x="584.1" y="207.85" textLength="15.4" lengthAdjust="spacingAndGlyphs">Bếp chiên đơn</text></g>
<g id="r1-10-2"><rect x="583.3" y="210.3" width="18" height="4"/><text x="584.1" y="213.15" textLength="16.4" lengthAdjust="spacingAndGlyphs">Bếp chiên đôi</text></g>
<g id="r1-11"><rect x="566.7" y="220.7" width="16" height="4"/><text x="567.5" y="223.55" textLength="14.4" lengthAdjust="spacingAndGlyphs">Bếp nấu phở</text></g>
<g id="r1-11-1"><rect x="585.7" y="215.3" width="22" height="4"/><text x="586.5" y="218.15" textLength="20.4" lengthAdjust="spacingAndGlyphs">Nồi nấu phở điện 50L</text></g>
<g id="r1-11-2"><rect x="585.7" y="220.7" width="22" height="4"/><text x="586.5" y="223.55" textLength="20.4" lengthAdjust="spacingAndGlyphs">Nồi nấu phở gas 100L</text></g>
<g id="r1-11-3"><rect x="585.7" y="225.7" width="20" height="4"/><text x="586.5" y="228.55" textLength="18.4" lengthAdjust="spacingAndGlyphs">Bếp nấu phở đôi</text></g>
<g id="r1-12"><rect x="566.7" y="238.5" width="13.3" height="4"/><text x="567.5" y="241.35" textLength="11.7" lengthAdjust="spacingAndGlyphs">Bếp hầm</text></g>
<g id="r1-12-1"><rect x="582.7" y="230.7" width="17" height="4"/><text x="583.5" y="233.55" textLength="15.4" lengthAdjust="spacingAndGlyphs">Bếp hầm đơn</text></g>
<g id="r1-12-2"><rect x="582.7" y="236.2" width="22" height="4"/><text x="583.5" y="239.05" textLength="20.4" lengthAdjust="spacingAndGlyphs">Bếp hầm đôi thấp</text></g>
<g id="r1-12-3"><rect x="582.7" y="241.5" width="22" height="4"/><text x="583.5" y="244.35" textLength="20.4" lengthAdjust="spacingAndGlyphs">Bếp hầm có quạt thổi</text></g>
<g id="r1-12-4"><rect x="582.7" y="246.5" width="20" height="4"/><text x="583.5" y="249.35" textLength="18.4" lengthAdjust="spacingAndGlyphs">Bếp hầm 3 họng</text></g>
<g id="r1-13"><rect x="566.7" y="251.7" width="14.3" height="4"/><text x="567.5" y="254.55" textLength="12.7" lengthAdjust="spacingAndGlyphs">Bếp xào</text></g>
<g id="r1-13-1"><rect x="586.7" y="251.7" width="18" height="4"/><text x="587.5" y="254.55" textLength="16.4" lengthAdjust="spacingAndGlyphs">Bếp xào công nghiệp</text></g>
<g id="r1-14"><rect x="566.7" y="262" width="13.3" height="4"/><text x="567.5" y="264.85" textLength="11.7" lengthAdjust="spacingAndGlyphs">Bếp nướng</text></g>
<g id="r1-14-1"><rect x="582.7" y="256.7" width="17" height="4"/><text x="583.5" y="259.55" textLength="15.4" lengthAdjust="spacingAndGlyphs">Bếp nướng than</text></g>
<g id="r1-14-2"><rect x="582.7" y="261.7" width="21" height="4"/><text x="583.5" y="264.55" textLength="19.4" lengthAdjust="spacingAndGlyphs">Bếp nướng đá núi lửa</text></g>
<g id="r1-14-3"><rect x="582.7" y="267.3" width="22" height="4"/><text x="583.5" y="270.15" textLength="20.4" lengthAdjust="spacingAndGlyphs">Bếp nướng có nắp đậy</text></g>
<g id="r1-15"><rect x="566.7" y="280" width="15" height="4"/><text x="567.5" y="282.85" textLength="13.4" lengthAdjust="spacingAndGlyphs">Bếp chiên nhúng</text></g>
<g id="r1-15-1"><rect x="585" y="272.3" width="15" height="4"/><text x="585.8" y="275.15" textLength="13.4" lengthAdjust="spacingAndGlyphs">Chiên nhúng đơn</text></g>
<g id="r1-15-2"><rect x="585" y="277.3" width="13" height="4"/><text x="585.8" y="280.15" textLength="11.4" lengthAdjust="spacingAndGlyphs">Chiên nhúng gas</text></g>
<g id="r1-15-3"><rect x="585" y="282.5" width="15" height="4"/><text x="585.8" y="285.35" textLength="13.4" lengthAdjust="spacingAndGlyphs">Chiên nhúng đôi</text></g>
<g id="r1-15-4"><rect x="585" y="287.7" width="16" height="4"/><text x="585.8" y="290.55" textLength="14.4" lengthAdjust="spacingAndGlyphs">Chiên nhúng điện</text></g>
<g id="r1-16"><rect x="566.7" y="292.7" width="14.3" height="4"/><text x="567.5" y="295.55" textLength="12.7" lengthAdjust="spacingAndGlyphs">Bếp hấp</text></g>
<g id="r1-16-1"><rect x="585" y="292.7" width="18" height="4"/><text x="585.8" y="295.55" textLength="16.4" lengthAdjust="spacingAndGlyphs">Tủ hấp công nghiệp</text></g>
<g id="r1-17"><rect x="566.7" y="303.3" width="14.3" height="4"/><text x="567.5" y="306.15" textLength="12.7" lengthAdjust="spacingAndGlyphs">Bếp từ</text></g>
<g id="r1-17-1"><rect x="583.3" y="297.7" width="17" height="4"/><text x="584.1" y="300.55" textLength="15.4" lengthAdjust="spacingAndGlyphs">Bếp từ đơn</text></g>
<g id="r1-17-2"><rect x="583.3" y="303.3" width="23" height="4"/><text x="584.1" y="306.15" textLength="21.4" lengthAdjust="spacingAndGlyphs">Bếp từ đơn có chân</text></g>
<g id="r1-17-3"><rect x="583.3" y="308.3" width="25" height="4"/><text x="584.1" y="311.15" textLength="23.4" lengthAdjust="spacingAndGlyphs">Bếp từ đơn âm bàn inox</text></g>
<g id="r1-18"><rect x="566.7" y="318.7" width="15" height="4"/><text x="567.5" y="321.55" textLength="13.4" lengthAdjust="spacingAndGlyphs">Bếp từ đôi</text></g>
<g id="r1-18-1"><rect x="584.3" y="313.3" width="25" height="4"/><text x="585.1" y="316.15" textLength="23.4" lengthAdjust="spacingAndGlyphs">Bếp từ đôi 2 vùng nấu</text></g>
<g id="r1-18-2"><rect x="584.3" y="318.7" width="25" height="4"/><text x="585.1" y="321.55" textLength="23.4" lengthAdjust="spacingAndGlyphs">Bếp từ đôi có chân inox</text></g>
<g id="r1-18-3"><rect x="584.3" y="323.7" width="25" height="4"/><text x="585.1" y="326.55" textLength="23.4" lengthAdjust="spacingAndGlyphs">Bếp từ đôi âm bàn 5kW</text></g>
<g id="r1-19"><rect x="566.7" y="328.7" width="15" height="4"/><text x="567.5" y="331.55" textLength="13.4" lengthAdjust="spacingAndGlyphs">Bếp than hoa</text></g>
<g id="r1-20"><rect x="566.7" y="333.7" width="11.7" height="4"/><text x="567.5" y="336.55" textLength="10.1" lengthAdjust="spacingAndGlyphs">Bếp điện</text></g>
</g></g>

<g id="r2" class="o">
<g id="r2-node" class="nd"><rect x="550" y="366.3" width="39" height="7.5"/><text x="551.3" y="369.4" style="text-anchor:start" textLength="35" lengthAdjust="spacingAndGlyphs">BẾP KẾT HỢP BẾP TỪ VÒNG</text><text x="551.3" y="372.6" style="text-anchor:start">NGOÀI</text></g>
<g class="ch">
<g id="r2-1"><rect x="593.3" y="343.3" width="23" height="4"/><text x="594.1" y="346.15" textLength="21.4" lengthAdjust="spacingAndGlyphs">Bếp từ công nghiệp 5kW</text></g>
<g id="r2-2"><rect x="593.3" y="348" width="22" height="4"/><text x="594.1" y="350.85" textLength="20.4" lengthAdjust="spacingAndGlyphs">Bếp từ đôi âm bàn</text></g>
<g id="r2-3"><rect x="593.3" y="352.7" width="22" height="4"/><text x="594.1" y="355.55" textLength="20.4" lengthAdjust="spacingAndGlyphs">Bếp từ đơn có chân</text></g>
<g id="r2-4"><rect x="593.3" y="357.7" width="28" height="4"/><text x="594.1" y="360.55" textLength="26.4" lengthAdjust="spacingAndGlyphs">Bếp từ xào chảo lõm công nghiệp</text></g>
<g id="r2-5"><rect x="593.3" y="363" width="24" height="4"/><text x="594.1" y="365.85" textLength="22.4" lengthAdjust="spacingAndGlyphs">Bếp từ nấu phở 15kW</text></g>
<g id="r2-6"><rect x="593.3" y="368" width="22" height="4"/><text x="594.1" y="370.85" textLength="20.4" lengthAdjust="spacingAndGlyphs">Bếp từ hầm nồi to</text></g>
<g id="r2-7"><rect x="593.3" y="373" width="26" height="4"/><text x="594.1" y="375.85" textLength="24.4" lengthAdjust="spacingAndGlyphs">Bếp từ 4 vùng nấu có lò</text></g>
<g id="r2-8"><rect x="593.3" y="378" width="22" height="4"/><text x="594.1" y="380.85" textLength="20.4" lengthAdjust="spacingAndGlyphs">Bếp từ chiên nhúng</text></g>
<g id="r2-9"><rect x="593.3" y="383" width="21" height="4"/><text x="594.1" y="385.85" textLength="19.4" lengthAdjust="spacingAndGlyphs">Bếp từ mặt phẳng</text></g>
<g id="r2-10"><rect x="593.3" y="387.7" width="22" height="4"/><text x="594.1" y="390.55" textLength="20.4" lengthAdjust="spacingAndGlyphs">Bếp từ để bàn 8kW</text></g>
<g id="r2-11"><rect x="593.3" y="393" width="21" height="4"/><text x="594.1" y="395.85" textLength="19.4" lengthAdjust="spacingAndGlyphs">Bếp từ nấu cơm</text></g>
</g></g>

<g id="r3" class="y">
<g id="r3-node" class="nd"><rect x="549" y="425.8" width="18.3" height="5"/><text x="558.15" y="429.25" textLength="15.5" lengthAdjust="spacingAndGlyphs">BẾP NƯỚNG</text></g>
<g class="ch">
<g id="r3-1"><rect x="580" y="402" width="18" height="4"/><text x="580.8" y="404.85" textLength="16.4" lengthAdjust="spacingAndGlyphs">Bếp nướng than</text></g>
<g id="r3-2"><rect x="580" y="406.7" width="18" height="4"/><text x="580.8" y="409.55" textLength="16.4" lengthAdjust="spacingAndGlyphs">Bếp nướng gas</text></g>
<g id="r3-3"><rect x="580" y="411.7" width="26" height="4"/><text x="580.8" y="414.55" textLength="24.4" lengthAdjust="spacingAndGlyphs">Bếp nướng đá núi lửa có nắp</text></g>
<g id="r3-4"><rect x="580" y="416.3" width="26" height="4"/><text x="580.8" y="419.15" textLength="24.4" lengthAdjust="spacingAndGlyphs">Bếp nướng salamander treo</text></g>
<g id="r3-5"><rect x="580" y="421.3" width="21" height="4"/><text x="580.8" y="424.15" textLength="19.4" lengthAdjust="spacingAndGlyphs">Bếp nướng băng chuyền</text></g>
<g id="r3-6"><rect x="580" y="426.3" width="21" height="4"/><text x="580.8" y="429.15" textLength="19.4" lengthAdjust="spacingAndGlyphs">Bếp nướng mặt gang</text></g>
<g id="r3-7"><rect x="580" y="431.3" width="18" height="4"/><text x="580.8" y="434.15" textLength="16.4" lengthAdjust="spacingAndGlyphs">Bếp nướng điện</text></g>
<g id="r3-8"><rect x="580" y="436.3" width="22" height="4"/><text x="580.8" y="439.15" textLength="20.4" lengthAdjust="spacingAndGlyphs">Bếp nướng thịt xoay</text></g>
<g id="r3-9"><rect x="580" y="441" width="23" height="4"/><text x="580.8" y="443.85" textLength="21.4" lengthAdjust="spacingAndGlyphs">Bếp nướng xiên que</text></g>
<g id="r3-10"><rect x="580" y="446" width="20" height="4"/><text x="580.8" y="448.85" textLength="18.4" lengthAdjust="spacingAndGlyphs">Bếp nướng bánh mì</text></g>
<g id="r3-11"><rect x="580" y="451" width="20" height="4"/><text x="580.8" y="453.85" textLength="18.4" lengthAdjust="spacingAndGlyphs">Bếp nướng không khói</text></g>
</g></g>

<g id="r4" class="g">
<g id="r4-node" class="nd"><rect x="549" y="511.8" width="15" height="5"/><text x="556.5" y="515.25" textLength="12" lengthAdjust="spacingAndGlyphs">BẾP ÂU</text></g>
<g class="ch">
<g id="r4-1"><rect x="569" y="463.7" width="18.7" height="4"/><text x="569.8" y="466.55" textLength="17.1" lengthAdjust="spacingAndGlyphs">Bếp âu 4 họng</text></g>
<g id="r4-1-1"><rect x="591.7" y="461.3" width="22" height="4"/><text x="592.5" y="464.15" textLength="20.4" lengthAdjust="spacingAndGlyphs">Bếp âu 4 họng có lò</text></g>
<g id="r4-1-2"><rect x="591.7" y="466.3" width="23" height="4"/><text x="592.5" y="469.15" textLength="21.4" lengthAdjust="spacingAndGlyphs">Bếp âu 4 họng không lò</text></g>
<g id="r4-2"><rect x="569" y="474" width="12.7" height="4"/><text x="569.8" y="476.85" textLength="11.1" lengthAdjust="spacingAndGlyphs">Bếp âu có lò</text></g>
<g id="r4-2-1"><rect x="585" y="471.3" width="17" height="4"/><text x="585.8" y="474.15" textLength="15.4" lengthAdjust="spacingAndGlyphs">Bếp âu 2 họng lò</text></g>
<g id="r4-2-2"><rect x="585" y="476.3" width="26" height="4"/><text x="585.8" y="479.15" textLength="24.4" lengthAdjust="spacingAndGlyphs">Bếp âu 6 họng có lò nướng</text></g>
<g id="r4-3"><rect x="569" y="484.3" width="17.7" height="4"/><text x="569.8" y="487.15" textLength="16.1" lengthAdjust="spacingAndGlyphs">Bếp âu 6 họng</text></g>
<g id="r4-3-1"><rect x="589.3" y="481.3" width="22" height="4"/><text x="590.1" y="484.15" textLength="20.4" lengthAdjust="spacingAndGlyphs">Bếp âu 6 họng gas</text></g>
<g id="r4-3-2"><rect x="589.3" y="486.7" width="28" height="4"/><text x="590.1" y="489.55" textLength="26.4" lengthAdjust="spacingAndGlyphs">Bếp âu 6 họng kết hợp chiên</text></g>
<g id="r4-4"><rect x="569" y="492" width="12.7" height="4"/><text x="569.8" y="494.85" textLength="11.1" lengthAdjust="spacingAndGlyphs">Bếp âu đơn</text></g>
<g id="r4-5"><rect x="569" y="497" width="12.7" height="4"/><text x="569.8" y="499.85" textLength="11.1" lengthAdjust="spacingAndGlyphs">Bếp âu đôi</text></g>
<g id="r4-6"><rect x="569" y="502" width="11.7" height="4"/><text x="569.8" y="504.85" textLength="10.1" lengthAdjust="spacingAndGlyphs">Bếp âu điện</text></g>
<g id="r4-7"><rect x="569" y="512" width="11.7" height="4"/><text x="569.8" y="514.85" textLength="10.1" lengthAdjust="spacingAndGlyphs">Bếp âu gas</text></g>
<g id="r4-7-1"><rect x="584.3" y="507" width="23" height="4"/><text x="585.1" y="509.85" textLength="21.4" lengthAdjust="spacingAndGlyphs">Bếp âu gas 4 họng có lò</text></g>
<g id="r4-7-2"><rect x="584.3" y="512" width="18" height="4"/><text x="585.1" y="514.85" textLength="16.4" lengthAdjust="spacingAndGlyphs">Bếp âu gas 6 họng</text></g>
<g id="r4-7-3"><rect x="584.3" y="517" width="21" height="4"/><text x="585.1" y="519.85" textLength="19.4" lengthAdjust="spacingAndGlyphs">Bếp âu gas có tủ dưới</text></g>
<g id="r4-8"><rect x="569" y="525" width="21" height="4"/><text x="569.8" y="527.85" textLength="19.4" lengthAdjust="spacingAndGlyphs">Bếp âu kết hợp chiên</text></g>
<g id="r4-8-1"><rect x="592.3" y="522.3" width="24" height="4"/><text x="593.1" y="525.15" textLength="22.4" lengthAdjust="spacingAndGlyphs">Bếp âu kết hợp bếp chiên</text></g>
<g id="r4-8-2"><rect x="592.3" y="527.3" width="28" height="4"/><text x="593.1" y="530.15" textLength="26.4" lengthAdjust="spacingAndGlyphs">Bếp âu kết hợp nướng mặt gang</text></g>
<g id="r4-9"><rect x="569" y="532.7" width="19" height="4"/><text x="569.8" y="535.55" textLength="17.4" lengthAdjust="spacingAndGlyphs">Bếp âu mặt phẳng</text></g>
<g id="r4-10"><rect x="569" y="537.7" width="16" height="4"/><text x="569.8" y="540.55" textLength="14.4" lengthAdjust="spacingAndGlyphs">Bếp âu có tủ</text></g>
<g id="r4-11"><rect x="569" y="542.7" width="22" height="4"/><text x="569.8" y="545.55" textLength="20.4" lengthAdjust="spacingAndGlyphs">Bếp âu nướng mặt gang</text></g>
<g id="r4-12"><rect x="569" y="547.7" width="23" height="4"/><text x="569.8" y="550.55" textLength="21.4" lengthAdjust="spacingAndGlyphs">Bếp âu kết hợp bếp hầm</text></g>
<g id="r4-13"><rect x="569" y="552.7" width="24" height="4"/><text x="569.8" y="555.55" textLength="22.4" lengthAdjust="spacingAndGlyphs">Bếp âu 2 họng có kệ dưới</text></g>
<g id="r4-14"><rect x="569" y="557.7" width="11" height="4"/><text x="569.8" y="560.55" textLength="9.4" lengthAdjust="spacingAndGlyphs">Bếp âu mini</text></g>
<g id="r4-15"><rect x="569" y="562.7" width="15" height="4"/><text x="569.8" y="565.55" textLength="13.4" lengthAdjust="spacingAndGlyphs">Bếp âu để bàn</text></g>
</g></g>

<g id="center"><rect x="509" y="337.5" width="32.5" height="9" rx="1.5"/><text x="525.25" y="343.3">Thiết bị bếp</text></g>
</svg>
